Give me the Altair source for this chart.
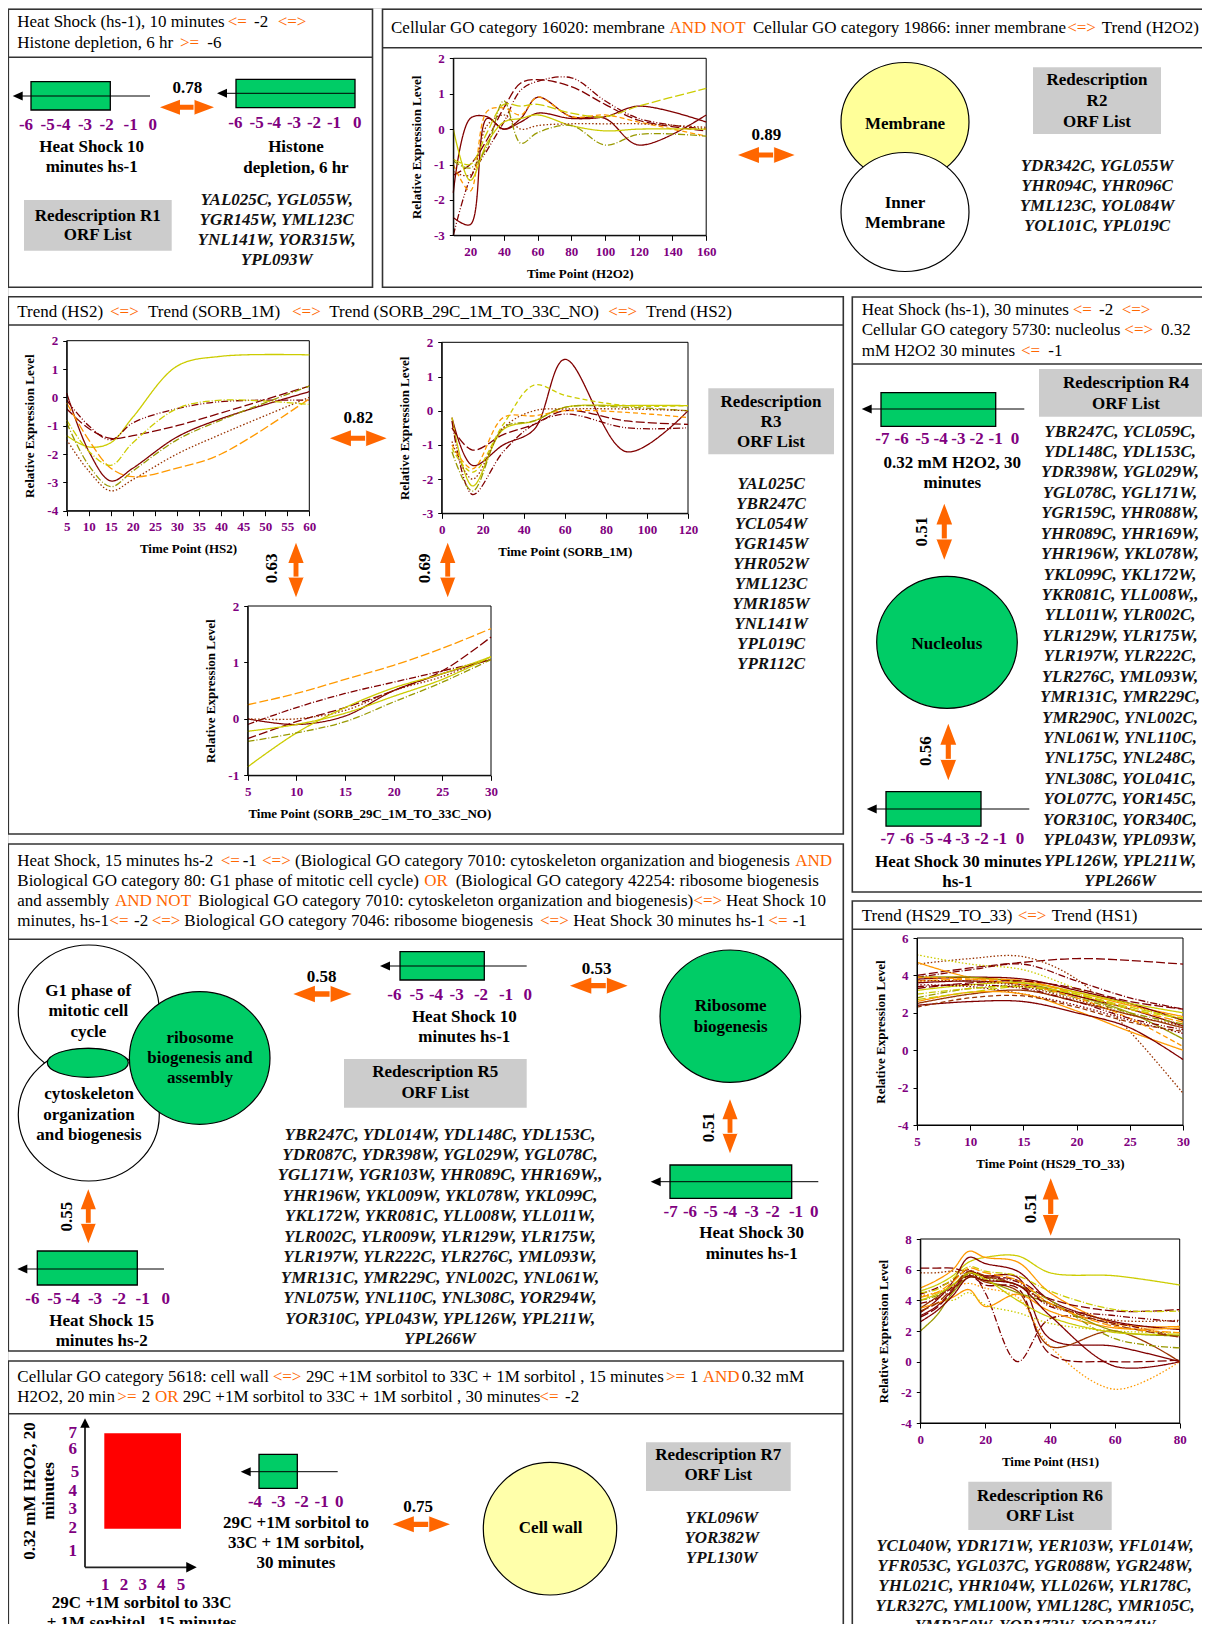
import altair as alt
import pandas as pd

FONT = "Liberation Serif"
W, H = 1194, 1616      # drawing area (page minus 8px margins)
OX, OY = 8, 8          # page margin -> layout coordinates are page pixels

# =====================================================================
# DATA
# =====================================================================
# ---- R2 : Trend (H2O2) ----
H2O2_TIMES = [10, 20, 30, 40, 50, 60, 80, 100, 120, 160]
H2O2_VALUES = {
    "a1": [-2.5, -2.7, 0.3, 0.0, 0.3, 0.9, 0.35, 0.3, -0.45, 0.4],
    "a2": [-1.8, 0.3, 0.35, 0.0, 0.2, 0.45, 0.3, 0.35, 0.65, 0.2],
    "a3": [-3.0, -1.4, -0.6, 0.2, 1.1, 1.35, 1.45, 0.8, 0.3, 0.0],
    "a4": [-1.3, -1.0, -0.3, 0.6, 1.3, 1.4, 1.2, 0.7, 0.25, -0.05],
    "a5": [-1.0, -1.75, 0.5, 0.6, 0.4, 0.9, 0.35, 0.4, 0.2, -0.2],
    "a6": [-0.85, -1.0, -0.1, 0.7, 0.65, 0.7, 0.45, 0.35, 0.65, 1.15],
    "a7": [0.0, -1.45, -0.4, 0.2, 0.3, 0.4, 0.1, -0.05, 0.0, 0.0],
    "a8": [-0.9, -1.1, -0.5, 0.8, -0.4, -0.1, 0.1, -0.45, -0.15, -0.2],
    "a9": [-1.2, -1.3, 0.1, 0.4, 0.0, 0.1, 0.15, 0.15, 0.15, 0.05],
}
# ---- R3 : Trend (HS2) ----
HS2_TIMES = [5, 10, 15, 20, 30, 40, 60]
HS2_VALUES = {
    "b1": [-1.35, -1.75, -1.6, -0.7, 1.1, 1.45, 1.5],
    "b2": [-0.1, -1.0, -1.5, -0.9, -0.4, -0.15, -0.1],
    "b3": [-0.4, -1.1, -1.45, -1.35, -1.0, -0.55, 0.4],
    "b4": [0.15, -1.9, -2.95, -2.5, -1.4, -0.75, 0.2],
    "b5": [-0.9, -2.4, -3.15, -2.6, -1.5, -0.8, 0.4],
    "b6": [-1.5, -2.6, -3.3, -2.9, -2.0, -1.3, 0.0],
    "b7": [-0.2, -1.5, -2.5, -2.8, -2.5, -2.0, -0.05],
    "b8": [-0.8, -1.9, -2.4, -1.6, -0.4, -0.1, -0.25],
}
# ---- R3 : Trend (SORB_1M) ----
SORB_TIMES = [5, 15, 30, 45, 60, 90, 120]
SORB_VALUES = {
    "c1": [-0.2, -1.6, -1.0, -0.55, 1.5, -1.2, 0.0],
    "c2": [-0.2, -2.2, -0.55, -0.3, 0.1, 0.15, 0.15],
    "c3": [-0.3, -2.45, -1.2, -0.4, -0.1, -0.5, -0.5],
    "c4": [-0.5, -1.15, -0.7, -0.4, 0.0, -0.3, -0.4],
    "c5": [-1.0, -1.7, -0.2, -0.15, 0.0, -0.05, -0.2],
    "c6": [-1.2, -2.35, -0.5, -0.3, 0.1, 0.1, 0.0],
    "c7": [-0.9, -2.0, -0.5, 0.0, 0.05, 0.05, 0.0],
    "c8": [-1.1, -1.8, -0.4, 0.75, 0.45, 0.15, 0.15],
}
# ---- R3 : Trend (SORB_29C_1M_TO_33C_NO) ----
S29_TIMES = [5, 10, 15, 20, 25, 30]
S29_VALUES = {
    "d1": [0.25, 0.45, 0.7, 0.95, 1.25, 1.6],
    "d2": [-0.35, -0.05, 0.2, 0.5, 0.85, 1.45],
    "d3": [-0.1, 0.2, 0.45, 0.65, 0.85, 1.05],
    "d4": [0.0, -0.1, 0.05, 0.5, 0.8, 1.05],
    "d5": [0.0, 0.0, 0.15, 0.5, 0.75, 1.1],
    "d6": [-0.85, -0.25, 0.2, 0.55, 0.8, 1.1],
    "d7": [-0.22, -0.1, 0.1, 0.4, 0.7, 1.1],
    "d8": [-0.4, -0.25, -0.05, 0.3, 0.65, 1.05],
}
# ---- R6 : Trend (HS29_TO_33) ----
HS29_TIMES = [5, 10, 15, 20, 25, 30]
HS29_VALUES = {
    "e1": [4.0, 4.4, 4.7, 4.9, 4.8, 4.6],
    "e2": [4.6, 4.9, 5.0, 3.8, 1.0, -2.3],
    "e3": [5.1, 4.6, 4.3, 3.3, 2.4, 1.6],
    "e4": [4.7, 3.9, 3.7, 3.1, 2.4, 1.8],
    "e5": [3.9, 4.3, 4.6, 3.7, 2.8, 2.2],
    "e6": [3.8, 3.9, 3.8, 3.2, 2.5, 1.6],
    "e7": [3.9, 3.9, 3.6, 2.9, 2.0, 0.6],
    "e8": [3.6, 3.7, 3.5, 2.9, 2.2, 1.3],
    "e9": [3.2, 3.5, 3.6, 3.1, 2.5, 2.0],
    "e10": [3.7, 3.8, 3.7, 3.0, 2.2, 1.5],
    "e11": [3.5, 3.4, 3.0, 2.4, 1.6, 0.9],
    "e12": [2.5, 3.0, 3.2, 2.6, 1.9, 1.2],
    "e13": [2.6, 3.1, 3.0, 2.1, 1.0, 0.0],
    "e14": [2.4, 2.6, 2.6, 2.0, 1.2, -0.5],
    "e15": [2.8, 3.3, 3.4, 2.8, 2.0, 1.4],
    "e16": [2.7, 3.1, 3.4, 3.0, 2.3, 1.7],
    "e17": [3.3, 3.6, 3.7, 3.3, 2.6, 2.2],
    "e18": [2.3, 2.8, 2.9, 2.3, 1.5, 1.0],
    "e19": [3.9, 3.8, 3.5, 2.8, 1.7, 0.2],
    "e20": [3.4, 3.5, 3.3, 2.6, 1.7, 1.1],
    "e21": [3.0, 3.3, 3.4, 3.0, 2.2, 1.7],
    "e22": [3.7, 3.7, 3.4, 2.7, 1.9, 1.3],
}
# ---- R6 : Trend (HS1) ----
HS1_TIMES = [0, 5, 10, 15, 20, 30, 40, 60, 80]
HS1_VALUES = {
    "f1": [4.6, 5.0, 5.6, 6.5, 6.8, 6.9, 5.8, 5.6, 5.0],
    "f2": [4.8, 5.3, 6.0, 7.2, 6.8, 6.5, 4.5, 2.5, 2.3],
    "f3": [3.2, 4.0, 5.2, 6.8, 6.4, 5.9, 4.0, 2.6, 2.1],
    "f4": [6.1, 6.1, 6.1, 5.8, 5.6, 5.3, 4.1, 3.3, 3.4],
    "f5": [5.8, 5.8, 5.9, 5.7, 5.4, 5.0, 3.7, 2.7, 2.7],
    "f6": [4.4, 4.8, 5.3, 6.0, 4.5, 0.0, 2.8, 2.5, 1.6],
    "f7": [3.0, 3.6, 4.7, 5.8, 5.6, 5.5, 1.5, 1.0, 0.0],
    "f8": [3.5, 4.2, 5.0, 5.6, 5.2, 4.6, 1.0, 2.0, 0.0],
    "f9": [4.3, 4.5, 4.9, 5.1, 4.8, 4.2, 1.0, -1.8, 0.0],
    "f10": [3.5, 3.8, 4.2, 4.7, 3.6, 4.4, 3.3, 2.2, 2.2],
    "f11": [4.3, 4.2, 4.0, 4.5, 3.7, 3.2, 2.5, 2.0, 1.9],
    "f12": [4.0, 4.3, 5.0, 5.7, 5.5, 5.0, 4.0, 1.5, 0.9],
    "f13": [4.5, 4.7, 5.4, 6.2, 5.9, 5.6, 4.6, 3.4, 3.3],
    "f14": [2.9, 3.5, 4.6, 5.6, 5.0, 4.8, 0.5, 0.0, 0.1],
    "f15": [2.0, 3.0, 4.5, 5.5, 5.3, 4.5, 3.8, 2.0, 1.7],
    "f16": [3.8, 4.1, 4.9, 5.9, 5.5, 5.2, 3.6, 3.0, 2.6],
    "f17": [4.0, 4.4, 5.0, 5.8, 5.4, 4.0, 2.9, 1.9, 1.8],
    "f18": [3.3, 3.8, 4.8, 5.9, 5.6, 5.0, 3.8, 2.4, 1.6],
    "f19": [2.6, 3.3, 4.3, 5.5, 5.3, 5.0, 3.0, -0.3, 0.0],
    "f20": [4.2, 4.5, 5.2, 6.1, 5.8, 5.3, 3.8, 2.3, 1.9],
}

# ---- text content ----
HEADER_TEXT = {
    "R1": [["Heat Shock (hs-1), 10 minutes", "<=", "-2", "<=>"],
           ["Histone depletion, 6 hr", ">=", "-6"]],
    "R2": [["Cellular GO category 16020: membrane", "AND NOT",
            "Cellular GO category 19866: inner membrane", "<=>", "Trend (H2O2)"]],
    "R3": [["Trend (HS2)", "<=>", "Trend (SORB_1M)", "<=>", "Trend (SORB_29C_1M_TO_33C_NO)",
            "<=>", "Trend (HS2)"]],
    "R4": [["Heat Shock (hs-1), 30 minutes", "<=", "-2", "<=>"],
           ["Cellular GO category 5730: nucleolus", "<=>", "0.32"],
           ["mM H2O2 30 minutes", "<=", "-1"]],
    "R5": [["Heat Shock, 15 minutes  hs-2", "<=", "-1", "<=>",
            "(Biological GO category 7010: cytoskeleton organization and biogenesis", "AND"],
           ["Biological GO category 80: G1 phase of mitotic cell cycle)", "OR",
            "(Biological GO category 42254: ribosome biogenesis"],
           ["and assembly", "AND NOT",
            "Biological GO category 7010: cytoskeleton organization and biogenesis)", "<=>",
            "Heat Shock 10"],
           ["minutes, hs-1", "<=", "-2", "<=>", "Biological GO category 7046: ribosome biogenesis",
            "<=>", "Heat Shock 30 minutes hs-1", "<=", "-1"]],
    "R6": [["Trend (HS29_TO_33)", "<=>", "Trend (HS1)"]],
    "R7": [["Cellular GO category 5618: cell wall", "<=>",
            "29C +1M sorbitol to 33C + 1M sorbitol , 15 minutes", ">=", "1", "AND", "0.32 mM"],
           ["H2O2, 20 min", ">=", "2", "OR",
            "29C +1M sorbitol to 33C + 1M sorbitol , 30 minutes", "<=", "-2"]],
}
OPERATORS = {"<=", ">=", "<=>", "AND", "AND NOT", "OR"}

ORF_R1 = ["YAL025C, YGL055W,", "YGR145W, YML123C", "YNL141W, YOR315W,", "YPL093W"]
ORF_R2 = ["YDR342C, YGL055W", "YHR094C, YHR096C", "YML123C, YOL084W", "YOL101C, YPL019C"]
ORF_R3 = ["YAL025C", "YBR247C", "YCL054W", "YGR145W", "YHR052W", "YML123C", "YMR185W",
          "YNL141W", "YPL019C", "YPR112C"]
ORF_R4 = ["YBR247C, YCL059C,", "YDL148C, YDL153C,", "YDR398W, YGL029W,", "YGL078C, YGL171W,",
          "YGR159C, YHR088W,", "YHR089C, YHR169W,", "YHR196W, YKL078W,", "YKL099C, YKL172W,",
          "YKR081C, YLL008W,,", "YLL011W, YLR002C,", "YLR129W, YLR175W,", "YLR197W, YLR222C,",
          "YLR276C, YML093W,", "YMR131C, YMR229C,", "YMR290C, YNL002C,", "YNL061W, YNL110C,",
          "YNL175C, YNL248C,", "YNL308C, YOL041C,", "YOL077C, YOR145C,", "YOR310C, YOR340C,",
          "YPL043W, YPL093W,", "YPL126W, YPL211W,", "YPL266W"]
ORF_R5 = ["YBR247C, YDL014W, YDL148C, YDL153C,", "YDR087C, YDR398W, YGL029W, YGL078C,",
          "YGL171W, YGR103W, YHR089C, YHR169W,,", "YHR196W, YKL009W, YKL078W, YKL099C,",
          "YKL172W, YKR081C, YLL008W, YLL011W,", "YLR002C, YLR009W, YLR129W, YLR175W,",
          "YLR197W, YLR222C, YLR276C, YML093W,", "YMR131C, YMR229C, YNL002C, YNL061W,",
          "YNL075W, YNL110C, YNL308C, YOR294W,", "YOR310C, YPL043W, YPL126W, YPL211W,",
          "YPL266W"]
ORF_R6 = ["YCL040W, YDR171W, YER103W, YFL014W,", "YFR053C, YGL037C, YGR088W, YGR248W,",
          "YHL021C, YHR104W, YLL026W, YLR178C,", "YLR327C, YML100W, YML128C, YMR105C,",
          "YMR250W, YOR173W, YOR374W"]
ORF_R7 = ["YKL096W", "YOR382W", "YPL130W"]

TICKS_6 = ["-6", "-5", "-4", "-3", "-2", "-1", "0"]
TICKS_7 = ["-7", "-6", "-5", "-4", "-3", "-2", "-1", "0"]
TICKS_4 = ["-4", "-3", "-2", "-1", "0"]
R7_Y_TICKS = ["7", "6", "5", "4", "3", "2", "1"]
R7_X_TICKS = ["1", "2", "3", "4", "5"]
R7_BOX = {"x0": [1], "x1": [5], "y0": [2], "y1": [7]}

# =====================================================================
# STYLES / LAYOUT
# =====================================================================
COLORS = {"M": "#800000", "B": "#993300", "O": "#FF9900", "L": "#999900", "Y": "#CCCC00"}
DASH_NAMES = ["solid", "dash", "long", "dashdot", "dashdotdot", "dot"]
DASH_RANGES = [[1, 0], [5, 3], [9, 3], [7, 2, 1, 2], [7, 2, 1, 2, 1, 2], [1.5, 2]]
ORANGE = "#FF6600"
GREEN = "#00CC66"
PURPLE = "#800080"

STYLE_A = {"a1": "M solid", "a2": "M solid", "a3": "M dashdotdot", "a4": "M long", "a5": "O dash",
           "a6": "Y long", "a7": "Y solid", "a8": "L dashdot", "a9": "B dot"}
STYLE_B = {"b1": "Y solid", "b2": "M dashdotdot", "b3": "M long", "b4": "M solid", "b5": "L dashdot",
           "b6": "B dot", "b7": "O long", "b8": "Y dashdot"}
STYLE_C = {"c1": "M solid", "c2": "Y solid", "c3": "M dashdotdot", "c4": "M long", "c5": "O dash",
           "c6": "L dashdot", "c7": "B dot", "c8": "Y dash"}
STYLE_D = {"d1": "O long", "d2": "M long", "d3": "M dashdot", "d4": "M solid", "d5": "B dot",
           "d6": "Y solid", "d7": "Y solid", "d8": "L dashdot"}
STYLE_E = {"e1": "M long", "e2": "B dot", "e3": "Y dot", "e4": "O solid", "e5": "M dashdot",
           "e6": "M solid", "e7": "L solid", "e8": "M solid", "e9": "Y solid", "e10": "O long",
           "e11": "M dot", "e12": "B solid", "e13": "O solid", "e14": "M solid", "e15": "L dashdot",
           "e16": "Y long", "e17": "M long", "e18": "B dash", "e19": "O dash", "e20": "M dashdotdot",
           "e21": "Y dashdot", "e22": "B dot"}
STYLE_F = {"f1": "Y solid", "f2": "O solid", "f3": "M solid", "f4": "M long", "f5": "B dot",
           "f6": "M dashdot", "f7": "M solid", "f8": "B solid", "f9": "O dot", "f10": "O solid",
           "f11": "Y dot", "f12": "L dashdot", "f13": "Y dashdot", "f14": "M long", "f15": "L solid",
           "f16": "M dashdotdot", "f17": "Y solid", "f18": "B long", "f19": "M solid", "f20": "O long"}

PANELS = [(8.3, 372.5, 9.3, 287.3), (382.5, 1216, 9.3, 287.3), (8.3, 843.3, 296.7, 834),
          (852.3, 1216, 297, 892), (8.3, 843.3, 844, 1351), (852.3, 1216, 901, 1645),
          (8.3, 843.3, 1361, 1645)]
SEPARATORS = [(8.3, 372.5, 57.3), (382.5, 1216, 47.7), (8.3, 843.3, 325), (852.3, 1216, 364),
              (8.3, 843.3, 939.3), (852.3, 1216, 929.3), (8.3, 843.3, 1413.7)]
GRAY_BOXES = [(24, 171.7, 200, 250.7), (1033, 1161, 67.3, 134), (708.3, 834, 388.3, 454.3),
              (1039, 1216, 368.9, 416.7), (344, 526.7, 1059, 1107.7), (968.3, 1111.7, 1481.7, 1530),
              (646, 790.7, 1442.3, 1491)]
HEADER_POS = {
    "R1": [(27.3, [17.3, 227.7, 254, 277.7]), (48.3, [17.3, 180, 207.3])],
    "R2": [(33.3, [391, 669.5, 753, 1067.2, 1101.8])],
    "R3": [(316.7, [17.3, 110, 148, 292, 329.3, 608.3, 646])],
    "R4": [(314.9, [861.7, 1072.7, 1099, 1121.7]), (335.2, [861.7, 1124.3, 1161]),
           (355.5, [861.7, 1021, 1048.3])],
    "R5": [(865.7, [17.3, 220.7, 242.7, 262, 295, 795.3]), (885.7, [17.3, 424.3, 455.7]),
           (906.3, [17.3, 115, 198.3, 693.3, 726]),
           (926.3, [17.3, 109.3, 134, 151.7, 184.3, 540, 573.3, 768.3, 792.7])],
    "R6": [(921, [861.7, 1017.7, 1051.7])],
    "R7": [(1382.3, [17.3, 272.7, 306, 666, 690, 702.7, 741.7]),
           (1401.7, [17.3, 117.3, 141.7, 155, 182.7, 539.3, 565])],
}
# (left, right, top, bottom) of each plot area
BOX_A = (453.3, 706.2, 58.3, 235.3)
BOX_B = (66.7, 309.3, 340.7, 510.7)
BOX_C = (441.7, 688, 342.3, 513.3)
BOX_D = (247.7, 491, 606, 775.3)
BOX_E = (917, 1183, 938, 1125)
BOX_F = (920.3, 1179.7, 1239, 1423)
R7_PLOT = (104.3, 181, 1528.7, 1433.3)  # pixel of x=1, x=5, y=2, y=7

BOLD_LABELS = [
    ("0.78", 187.3, 92.7), ("Heat Shock 10", 91.7, 152.3), ("minutes hs-1", 91.7, 172.3),
    ("Histone", 296, 152.3), ("depletion, 6 hr", 296, 172.7),
    ("Redescription R1", 97.7, 220.5), ("ORF List", 97.7, 240),
    ("0.89", 766.4, 140), ("Membrane", 905, 128.5), ("Inner", 905, 207.5), ("Membrane", 905, 228),
    ("Redescription", 1097, 85.3), ("R2", 1097, 106), ("ORF List", 1097, 126.7),
    ("0.82", 358.3, 423.3), ("Redescription", 771, 406.7), ("R3", 771, 426.7), ("ORF List", 771, 446.7),
    ("Redescription R4", 1126, 388), ("ORF List", 1126, 408.5), ("0.32 mM H2O2, 30", 952.3, 467.5),
    ("minutes", 952.3, 488), ("Nucleolus", 947, 648.5), ("Heat Shock 30 minutes", 958.3, 867.4),
    ("hs-1", 957.3, 886.5),
    ("G1 phase of", 88.3, 996), ("mitotic cell", 88.3, 1016), ("cycle", 88.3, 1036.5),
    ("ribosome", 200, 1042.7), ("biogenesis and", 200, 1062.7), ("assembly", 200, 1083.3),
    ("cytoskeleton", 89, 1099.3), ("organization", 89, 1120), ("and biogenesis", 89, 1140),
    ("Heat Shock 15", 101.7, 1326), ("minutes hs-2", 101.7, 1346), ("0.58", 321.7, 981.7),
    ("Heat Shock 10", 464.3, 1021.7), ("minutes hs-1", 464.3, 1042.3),
    ("Redescription R5", 435.3, 1077.3), ("ORF List", 435.3, 1098.3), ("0.53", 596.7, 974),
    ("Ribosome", 730.7, 1010.7), ("biogenesis", 730.7, 1031.7),
    ("Heat Shock 30", 751.7, 1238.3), ("minutes hs-1", 751.7, 1259.3),
    ("Redescription R6", 1040, 1501), ("ORF List", 1040, 1521),
    ("29C +1M sorbitol to", 296, 1527.7), ("33C + 1M sorbitol,", 296, 1547.7),
    ("30 minutes", 296, 1567.7), ("0.75", 418, 1511.7), ("Cell wall", 550.7, 1533.3),
    ("Redescription R7", 718.3, 1460), ("ORF List", 718.3, 1480),
    ("29C +1M sorbitol to 33C", 141.7, 1608.3), ("+ 1M sorbitol , 15 minutes", 141.7, 1627.7),
]
ROTATED_LABELS = [("0.63", 271.7, 568.3), ("0.69", 425, 568.3), ("0.51", 921.7, 531.5),
                  ("0.56", 925.7, 751.2), ("0.55", 66.7, 1216.7), ("0.51", 709.3, 1127.3),
                  ("0.51", 1030.7, 1208.3), ("0.32 mM H2O2, 20", 30, 1491), ("minutes", 49.3, 1491)]
ORF_POS = [(ORF_R1, 276.7, 205, 20), (ORF_R2, 1097, 170.5, 20), (ORF_R3, 771, 488.5, 20),
           (ORF_R4, 1120, 436.5, 20.43), (ORF_R5, 440, 1139.6, 20.44), (ORF_R6, 1035, 1551, 20),
           (ORF_R7, 721.7, 1523.3, 20)]
TICK_POS = [
    (TICKS_6, [26, 47.7, 63.3, 85, 106.7, 130.7, 152.7], 130),
    (TICKS_6, [235.3, 256.7, 274, 294, 314, 334, 357.3], 128.3),
    (TICKS_7, [882.3, 901.7, 922.3, 940.7, 958.3, 976.7, 995.7, 1015], 444.3),
    (TICKS_7, [887.7, 907, 926.7, 944.3, 962.3, 981.7, 1000, 1020], 844.2),
    (TICKS_6, [32.3, 54.3, 72.7, 95, 119, 142.7, 165.7], 1304),
    (TICKS_6, [394.3, 416.7, 436, 456.7, 481, 506, 527.7], 1000),
    (TICKS_7, [670.7, 690, 710.7, 730, 751.7, 772.7, 796, 814.3], 1216.7),
    (TICKS_4, [255, 278.3, 301.7, 321.7, 339.3], 1506.7),
    (R7_X_TICKS, [105.3, 124, 142.7, 161.3, 181], 1590),
]
R7_Y_TICK_POS = ([72.7, 72.7, 75, 72.7, 72.7, 72.7, 72.7],
                 [1437.7, 1454.3, 1476.7, 1495.7, 1514.3, 1533.3, 1555.7])
# range bars: (line x0, line x1, line y, rect x0, rect x1, rect y0, rect y1)
RANGE_BARS = [(12.7, 150, 96, 31, 110.3, 81.7, 110), (217, 355, 93.3, 236, 355, 79.3, 107.7),
              (861.7, 1024.3, 409, 881, 995.7, 392.6, 426.3), (866.7, 1029.3, 809, 886, 981, 791.7, 826.2),
              (17.3, 164, 1269, 37.3, 137.3, 1251, 1285), (380, 526.7, 966, 400, 484.3, 951.7, 980),
              (650.7, 818.3, 1181.7, 670, 791.7, 1165, 1198.3),
              (240.7, 337.7, 1471.7, 259, 297.3, 1454.3, 1488.3)]
# venn shapes: cx, cy, rx, ry, fill
VENN = [(905, 122, 64, 59.5, "#FFFF99"), (905, 212, 64, 59.5, "white"),
        (947, 642.3, 70.3, 66, GREEN),
        (88.8, 1011.3, 70.5, 66.3, "white"), (88.8, 1114.7, 70.5, 66.3, "white"),
        (199.7, 1058, 70.3, 66.3, GREEN), (87.8, 1062.8, 40.5, 14.5, GREEN),
        (730.3, 1016.2, 70.3, 66.2, GREEN), (550, 1528.7, 66.7, 66.3, "#FFFFAA")]
# double arrows: cx, cy, length, orientation
ARROWS = [(187, 107.3, 54, "h"), (766.3, 155, 56.6, "h"), (358.3, 438.3, 56.7, "h"),
          (322.5, 994, 58.4, "h"), (598.8, 985.7, 57.7, "h"), (421.3, 1524.3, 57.3, "h"),
          (296, 570, 54.6, "v"), (447.7, 570, 54.6, "v"), (944.3, 531.7, 56, "v"),
          (948.3, 752, 56.7, "v"), (88.3, 1216.3, 54, "v"), (730, 1126.3, 54, "v"),
          (1050.7, 1207, 57.4, "v")]

# =====================================================================
# HELPERS
# =====================================================================
def cx(f="x"):
    return alt.X(f"{f}:Q", scale=alt.Scale(domain=[OX, OX + W], range=[0, W], nice=False, zero=False), axis=None)


def cy(f="y"):
    return alt.Y(f"{f}:Q", scale=alt.Scale(domain=[OY, OY + H], range=[0, H], nice=False, zero=False), axis=None)


def ellipse_path(ratio):
    k = 0.5523
    r = ratio
    return (f"M 1 0 C 1 {k*r:.4f} {k:.4f} {r:.4f} 0 {r:.4f} C {-k:.4f} {r:.4f} -1 {k*r:.4f} -1 0 "
            f"C -1 {-k*r:.4f} {-k:.4f} {-r:.4f} 0 {-r:.4f} C {k:.4f} {-r:.4f} 1 {-k*r:.4f} 1 0 Z")


ARROW_H = ("M -1 0 L -0.26 -0.28 L -0.26 -0.09 L 0.26 -0.09 L 0.26 -0.28 L 1 0 "
           "L 0.26 0.28 L 0.26 0.09 L -0.26 0.09 L -0.26 0.28 Z")
ARROW_V = ("M 0 -1 L -0.28 -0.26 L -0.09 -0.26 L -0.09 0.26 L -0.28 0.26 L 0 1 "
           "L 0.28 0.26 L 0.09 0.26 L 0.09 -0.26 L 0.28 -0.26 Z")
HEAD_LEFT = "M -1 0 L 1 -0.9 L 1 0.9 Z"
HEAD_UP = "M 0 -1 L -1 1 L 1 1 Z"
HEAD_RIGHT = "M 1 0 L -1 -1 L -1 1 Z"

AXIS_COMMON = dict(labelFont=FONT, labelFontSize=13, labelFontWeight="bold", labelColor=PURPLE,
                   titleFont=FONT, titleFontSize=13, titleFontWeight="bold", titleColor="black",
                   domainColor="black", domainWidth=1, tickColor="black", tickWidth=1, grid=False,
                   labelFlush=False, labelOverlap=False, labelBound=False, zindex=2,
                   labelExpr="'' + datum.value")


def mini_chart(times, values, styles, tdom, vdom, tticks, vticks, xtitle, box):
    x0, x1, y0, y1 = box
    rows = []
    for name, vals in values.items():
        c, d = styles[name].split()
        for t, v in zip(times, vals):
            rows.append(dict(series=name, t=t, v=v, color=COLORS[c], dash=d))
    df = pd.DataFrame(rows)
    xs = alt.Scale(domain=tdom, range=[x0 - OX, x1 - OX], nice=False, zero=False)
    ys = alt.Scale(domain=vdom, range=[y1 - OY, y0 - OY], nice=False, zero=False)
    xax = alt.Axis(orient="bottom", offset=(y1 - OY) - H, values=tticks, title=xtitle,
                   tickSize=5, labelPadding=5, titlePadding=9, **AXIS_COMMON)
    yax = alt.Axis(orient="left", offset=-(x0 - OX), values=vticks, title="Relative Expression Level",
                   tickSize=4, labelPadding=5, titlePadding=10, **AXIS_COMMON)
    fdf = pd.DataFrame({"a": [tdom[0]], "b": [tdom[1]], "c": [vdom[0]], "d": [vdom[1]]})
    frame = alt.Chart(fdf).mark_rect(fillOpacity=0, stroke="black", strokeWidth=1).encode(
        x=alt.X("a:Q", scale=xs, axis=None), x2="b:Q",
        y=alt.Y("c:Q", scale=ys, axis=None), y2="d:Q")
    lines = alt.Chart(df).mark_line(interpolate="catmull-rom", strokeWidth=1.3).encode(
        x=alt.X("t:Q", scale=xs, axis=xax),
        y=alt.Y("v:Q", scale=ys, axis=yax),
        color=alt.Color("color:N", scale=None),
        strokeDash=alt.StrokeDash("dash:N", scale=alt.Scale(domain=DASH_NAMES, range=DASH_RANGES),
                                  legend=None),
        detail="series:N")
    return [frame, lines]


layers = []

# panel boxes and header separators
pdf = pd.DataFrame(PANELS, columns=["x0", "x1", "y0", "y1"])
layers.append(alt.Chart(pdf).mark_rect(fillOpacity=0, stroke="#333333", strokeWidth=1.6).encode(
    x=cx("x0"), x2="x1:Q", y=cy("y0"), y2="y1:Q"))
sdf = pd.DataFrame(SEPARATORS, columns=["x0", "x1", "y"])
layers.append(alt.Chart(sdf).mark_rule(color="#333333", strokeWidth=1.6).encode(
    x=cx("x0"), x2="x1:Q", y=cy("y")))

# gray boxes
gdf = pd.DataFrame(GRAY_BOXES, columns=["x0", "x1", "y0", "y1"])
layers.append(alt.Chart(gdf).mark_rect(fill="#CCCCCC").encode(
    x=cx("x0"), x2="x1:Q", y=cy("y0"), y2="y1:Q"))

# mini line charts
layers += mini_chart(H2O2_TIMES, H2O2_VALUES, STYLE_A, [10, 160], [-3, 2],
                     list(range(20, 161, 20)), [-3, -2, -1, 0, 1, 2], "Time Point (H2O2)", BOX_A)
layers += mini_chart(HS2_TIMES, HS2_VALUES, STYLE_B, [5, 60], [-4, 2],
                     list(range(5, 61, 5)), list(range(-4, 3)), "Time Point (HS2)", BOX_B)
layers += mini_chart(SORB_TIMES, SORB_VALUES, STYLE_C, [0, 120], [-3, 2],
                     list(range(0, 121, 20)), list(range(-3, 3)), "Time Point (SORB_1M)", BOX_C)
layers += mini_chart(S29_TIMES, S29_VALUES, STYLE_D, [5, 30], [-1, 2],
                     list(range(5, 31, 5)), [-1, 0, 1, 2], "Time Point (SORB_29C_1M_TO_33C_NO)", BOX_D)
layers += mini_chart(HS29_TIMES, HS29_VALUES, STYLE_E, [5, 30], [-4, 6],
                     list(range(5, 31, 5)), list(range(-4, 7, 2)), "Time Point (HS29_TO_33)", BOX_E)
layers += mini_chart(HS1_TIMES, HS1_VALUES, STYLE_F, [0, 80], [-4, 8],
                     list(range(0, 81, 20)), list(range(-4, 9, 2)), "Time Point (HS1)", BOX_F)

# R7 red region through its own scale
rx_scale = alt.Scale(domain=[1, 5], range=[R7_PLOT[0] - OX, R7_PLOT[1] - OX], nice=False, zero=False)
ry_scale = alt.Scale(domain=[2, 7], range=[R7_PLOT[2] - OY, R7_PLOT[3] - OY], nice=False, zero=False)
layers.append(alt.Chart(pd.DataFrame(R7_BOX)).mark_rect(fill="#FF0000").encode(
    x=alt.X("x0:Q", scale=rx_scale, axis=None), x2="x1:Q",
    y=alt.Y("y0:Q", scale=ry_scale, axis=None), y2="y1:Q"))
# R7 axis lines
ax_df = pd.DataFrame([(85, 85, 1427, 1567.3), (85, 188, 1567.3, 1567.3)], columns=["x0", "x1", "y0", "y1"])
layers.append(alt.Chart(ax_df).mark_rule(color="#222222", strokeWidth=1.8).encode(
    x=cx("x0"), x2="x1:Q", y=cy("y0"), y2="y1:Q"))

# range bars
rb = pd.DataFrame(RANGE_BARS, columns=["lx0", "lx1", "ly", "rx0", "rx1", "ry0", "ry1"])
layers.append(alt.Chart(rb).mark_rect(fill=GREEN, stroke="black", strokeWidth=1.3).encode(
    x=cx("rx0"), x2="rx1:Q", y=cy("ry0"), y2="ry1:Q"))
rb["lx0h"] = rb["lx0"] + 5
layers.append(alt.Chart(rb).mark_rule(color="black", strokeWidth=1).encode(
    x=cx("lx0h"), x2="lx1:Q", y=cy("ly")))

# arrow heads (black)
heads = [(r[0] + 5, r[2], HEAD_LEFT, 100) for r in RANGE_BARS]
heads += [(85, 1423, HEAD_UP, 90), (191.5, 1567.3, HEAD_RIGHT, 110)]
hdf = pd.DataFrame(heads, columns=["x", "y", "shape", "size"])
layers.append(alt.Chart(hdf).mark_point(filled=True, opacity=1, fill="black", strokeWidth=0).encode(
    x=cx(), y=cy(), shape=alt.Shape("shape:N", scale=None), size=alt.Size("size:Q", scale=None)))

# venn shapes
vrows = [dict(x=v[0], y=v[1], shape=ellipse_path(v[3] / v[2]), size=(2 * v[2]) ** 2, fill=v[4], z=i)
         for i, v in enumerate(VENN)]
layers.append(alt.Chart(pd.DataFrame(vrows)).mark_point(
    filled=True, opacity=1, stroke="black", strokeWidth=1.2).encode(
    x=cx(), y=cy(), shape=alt.Shape("shape:N", scale=None), size=alt.Size("size:Q", scale=None),
    fill=alt.Fill("fill:N", scale=None), order=alt.Order("z:Q")))

# orange double arrows
arows = [dict(x=a[0], y=a[1], shape=ARROW_H if a[3] == "h" else ARROW_V, size=a[2] ** 2) for a in ARROWS]
layers.append(alt.Chart(pd.DataFrame(arows)).mark_point(
    filled=True, opacity=1, fill=ORANGE, strokeWidth=0).encode(
    x=cx(), y=cy(), shape=alt.Shape("shape:N", scale=None), size=alt.Size("size:Q", scale=None)))
# thin white split line where the shaft meets the second head
split = []
for a in ARROWS:
    half = a[2] / 2
    if a[3] == "h":
        split.append(dict(x0=a[0] + 0.26 * half, x1=a[0] + 0.26 * half,
                          y0=a[1] - 0.28 * half, y1=a[1] + 0.28 * half))
    else:
        split.append(dict(x0=a[0] - 0.28 * half, x1=a[0] + 0.28 * half,
                          y0=a[1] + 0.26 * half, y1=a[1] + 0.26 * half))
layers.append(alt.Chart(pd.DataFrame(split)).mark_rule(color="white", strokeWidth=1).encode(
    x=cx("x0"), x2="x1:Q", y=cy("y0"), y2="y1:Q"))

# header texts
hrows = []
for key, lines in HEADER_TEXT.items():
    for segs, (by, xs) in zip(lines, HEADER_POS[key]):
        for s, xx in zip(segs, xs):
            hrows.append(dict(text=s, x=xx, y=by, color=ORANGE if s in OPERATORS else "black"))
layers.append(alt.Chart(pd.DataFrame(hrows)).mark_text(
    font=FONT, fontSize=17, align="left", baseline="alphabetic").encode(
    x=cx(), y=cy(), text="text:N", color=alt.Color("color:N", scale=None)))

# bold labels
layers.append(alt.Chart(pd.DataFrame(BOLD_LABELS, columns=["text", "x", "y"])).mark_text(
    font=FONT, fontSize=17, fontWeight="bold", align="center", baseline="alphabetic", color="black").encode(
    x=cx(), y=cy(), text="text:N"))

# ORF lists
orows = []
for lst, xx, y0, step in ORF_POS:
    for i, s in enumerate(lst):
        orows.append(dict(text=s, x=xx, y=y0 + i * step))
layers.append(alt.Chart(pd.DataFrame(orows)).mark_text(
    font=FONT, fontSize=17, fontWeight="bold", fontStyle="italic", align="center",
    baseline="alphabetic", color="#111111").encode(x=cx(), y=cy(), text="text:N"))

# purple tick numbers
trows = []
for labels, xs, by in TICK_POS:
    for s, xx in zip(labels, xs):
        trows.append(dict(text=s, x=xx, y=by))
for s, xx, yy in zip(R7_Y_TICKS, R7_Y_TICK_POS[0], R7_Y_TICK_POS[1]):
    trows.append(dict(text=s, x=xx, y=yy))
layers.append(alt.Chart(pd.DataFrame(trows)).mark_text(
    font=FONT, fontSize=17, fontWeight="bold", align="center", baseline="alphabetic", color=PURPLE).encode(
    x=cx(), y=cy(), text="text:N"))

# rotated labels
layers.append(alt.Chart(pd.DataFrame(ROTATED_LABELS, columns=["text", "x", "y"])).mark_text(
    font=FONT, fontSize=17, fontWeight="bold", align="center", baseline="middle", angle=270,
    color="black").encode(x=cx(), y=cy(), text="text:N"))

chart = alt.layer(*layers).properties(
    width=W, height=H, autosize="none", padding=0
).resolve_scale(x="independent", y="independent").configure_view(stroke=None).configure(background="white")

chart.save("out.html", embed_options={"renderer": "svg", "actions": False})
